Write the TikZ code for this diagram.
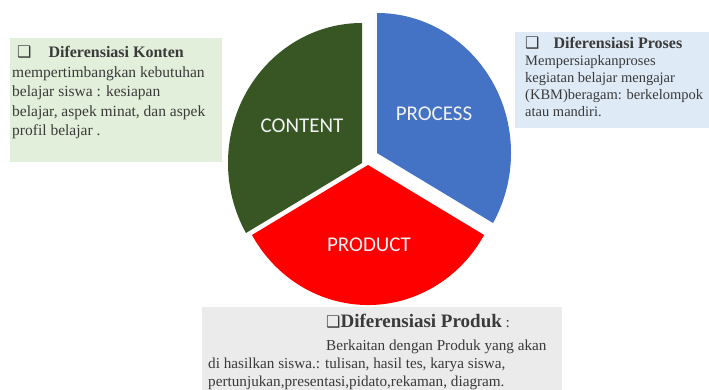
\documentclass[tikz,border=0pt]{standalone}
\usepackage{fontspec}
\setmainfont{Liberation Serif}
\newfontfamily\slicefont{Carlito}
\newfontfamily\symfont{DejaVu Sans}
\newcommand{\sqbullet}{{\symfont\fontsize{16}{16}\selectfont ❑}}

\definecolor{contentgreen}{HTML}{375623}
\definecolor{processblue}{HTML}{4472C4}
\definecolor{productred}{HTML}{FF0000}
\definecolor{kontenbg}{HTML}{E2EFDA}
\definecolor{prosesbg}{HTML}{DEEAF6}
\definecolor{produkbg}{HTML}{EBEBEB}
\definecolor{bodytext}{HTML}{3A3A3A}

\begin{document}
\begin{tikzpicture}[x=1pt, y=1pt,
  slicelabel/.style={text=white!95!black, font=\slicefont\fontsize{21}{21}\selectfont},
  infobox/.style={anchor=north west, inner sep=0pt, text=bodytext}]
\useasboundingbox (0,0) rectangle (709,-390);
% pie slices
\fill[contentgreen] (362,-163) -- (362,-23) arc[start angle=90, end angle=210, x radius=134, y radius=140] -- cycle;
\fill[processblue] (377,-153) -- (377,-13) arc[start angle=90, end angle=-30, x radius=134, y radius=140] -- cycle;
\fill[productred] (368,-165) -- (252,-235) arc[start angle=210, end angle=330, x radius=134, y radius=140] -- cycle;
\node[slicelabel] (content) at (302,-126) {CONTENT};
\node[slicelabel] (process) at (434,-114) {PROCESS};
\node[slicelabel] (product) at (369,-245) {PRODUCT};
% text boxes
\node[infobox, fill=kontenbg, inner xsep=2pt, inner ysep=8pt] (konten) at (10,-38) {\begin{minipage}[t][108pt][t]{208pt}\raggedright\fontsize{15.5}{19.5}\selectfont
\hspace*{5pt}\sqbullet\hspace{17pt}{\fontsize{16}{19.5}\selectfont\bfseries Diferensiasi Konten}\\
mempertimbangkan kebutuhan\\
belajar siswa : kesiapan\\
belajar, aspek minat, dan aspek\\
profil belajar .
\end{minipage}};
\node[infobox, fill=prosesbg, inner xsep=10pt, inner ysep=5pt] (proses) at (515,-32) {\begin{minipage}[t][86pt][t]{200pt}\raggedright\fontsize{14.5}{17}\selectfont
\sqbullet\hspace{14pt}{\fontsize{16}{17}\selectfont\bfseries Diferensiasi Proses}\\
Mempersiapkanproses\\
kegiatan belajar mengajar\\
(KBM)beragam: berkelompok\\
atau mandiri.
\end{minipage}};
\node[infobox, fill=produkbg, inner xsep=6pt, inner ysep=7pt] (produk) at (202,-307) {\begin{minipage}[t][80pt][t]{348pt}\raggedright\fontsize{15.2}{18}\selectfont
\hspace*{118pt}\sqbullet{\fontsize{19}{18}\selectfont\bfseries Diferensiasi Produk} :\\[5pt]
\hspace*{118pt}Berkaitan dengan Produk yang akan\\
di hasilkan siswa.: tulisan, hasil tes, karya siswa,\\
pertunjukan,presentasi,pidato,rekaman, diagram.
\end{minipage}};
\end{tikzpicture}
\end{document}
